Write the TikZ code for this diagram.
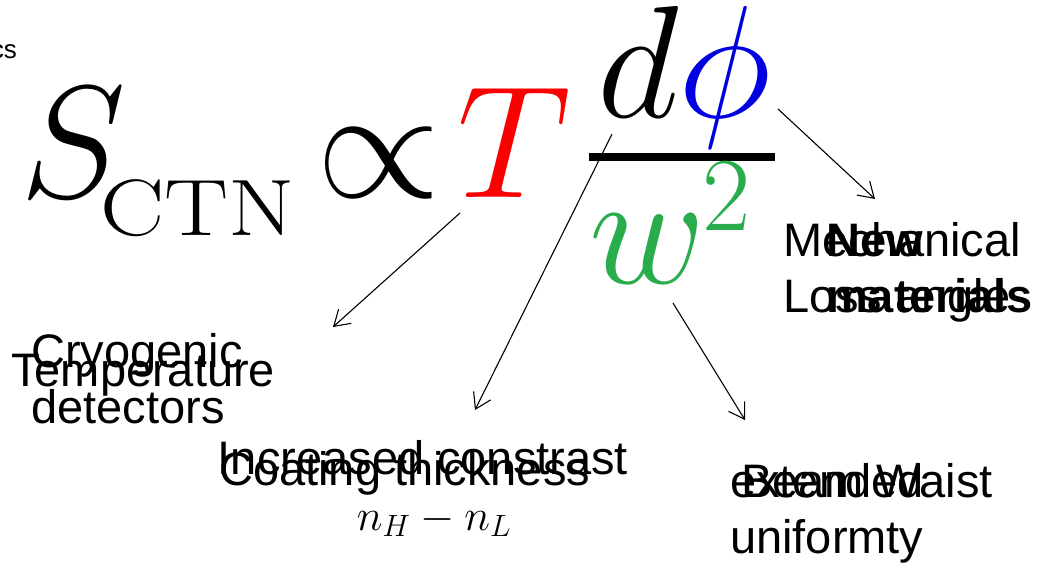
\RequirePackage{fix-cm}
\documentclass[tikz,border=0pt]{standalone}
\usepackage{graphicx}
\usepackage{fontspec}
\newfontfamily\arial{Liberation Sans}
\usetikzlibrary{arrows.meta}
\definecolor{tred}{RGB}{250,0,0}
\definecolor{phiblue}{RGB}{0,0,225}
\definecolor{wgreen}{RGB}{40,172,76}
\begin{document}
\begin{tikzpicture}[x=1pt,y=-1pt,
  lbl/.style={font=\arial\fontsize{47}{56}\selectfont, align=left, inner sep=0pt, anchor=base west},
  blbl/.style={font=\arial\bfseries\fontsize{47}{56}\selectfont, align=left, inner sep=0pt, anchor=base west},
  big/.style={font=\fontsize{160}{160}\selectfont, inner sep=0pt, anchor=base west},
  arr/.style={-{Straight Barb[length=15pt,width=19pt]}, line width=1.1pt}]
\useasboundingbox (0,0) rectangle (1050,570);
\fill[white] (0,0) rectangle (1050,570);
% top-left fragment
\node[font=\arial\fontsize{26}{28}\selectfont, inner sep=0pt, anchor=base east] (frag) at (17,58) {cs};
% formula
\node[big] (S) at (20,197) {$S$};
\node[font=\fontsize{80}{80}\selectfont, inner sep=0pt, anchor=base west] (ctn) at (100,235) {\scalebox{1.2}[1]{CTN}};
\node[big] (prop) at (316,197) {$\propto$};
\node[big] (T) at (457,197) {$\color{tred}T$};
\node[big] (num) at (597,117) {$d\color{phiblue}\phi$};
\draw[line width=7.5pt] (589,157) -- (775,157);
\node[big] (w) at (589,283) {$\color{wgreen}w$};
\node[font=\fontsize{105}{105}\selectfont, inner sep=0pt, anchor=base west, text=wgreen] (sq) at (702,230) {2};
% labels
\node[lbl] (cryo) at (31,423) {Cryogenic\\detectors};
\node[lbl] (temp) at (11,386) {Temperature};
\node[lbl] (mech) at (783,312) {Mechanical\\Loss angle};
\node[blbl] (newm) at (826,312) {New\\materials};
\node[lbl, align=center, anchor=base] (incr) at (423,530) {Increased constrast\\\fontsize{44}{56}\selectfont\hspace*{22pt}$n_H - n_L$};
\node[lbl] (coat) at (219,485) {Coating thickness};
\node[lbl] (beam) at (741,497) {Beam Waist};
\node[lbl] (ext) at (730,553) {extended\\uniformty};
% arrow end points
\coordinate (t1) at (460,213);
\coordinate (h1) at (333,327);
\coordinate (t2) at (612,134);
\coordinate (h2) at (475,410);
\coordinate (t3) at (778,109);
\coordinate (h3) at (875,199);
\coordinate (t4) at (673,303);
\coordinate (h4) at (745,420);
\draw[arr] (t1) -- (h1);
\draw[arr] (t2) -- (h2);
\draw[arr] (t3) -- (h3);
\draw[arr] (t4) -- (h4);
\end{tikzpicture}
\end{document}
